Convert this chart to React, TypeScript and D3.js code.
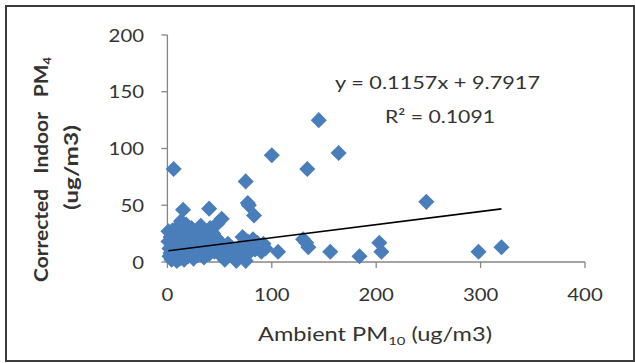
import React from "react";
import * as d3 from "d3";

const ambient: number[] = [
  1,1,2,2,3,3,4,4,5,5,6,6,7,7,8,8,9,9,10,10,11,11,12,12,13,13,14,14,15,15,16,16,17,18,18,19,20,20,21,22,23,23,24,25,26,27,28,29,30,31,32,33,34,35,36,37,38,39,40,40,41,42,43,44,45,46,47,48,49,50,51,52,53,55,56,58,60,62,64,66,68,70,72,73,75,76,77,78,80,82,84,86,88,90,92,94,
  6,100,145,134,164,75,77,78,83,248,106,130,133,135,156,184,203,205,298,320,
];
const indoor: number[] = [
  27,18,12,5,22,8,15,2,28,10,20,4,13,25,7,17,30,1,11,22,6,16,26,3,36,12,19,8,46,28,14,2,23,9,33,17,5,25,13,20,8,30,15,3,22,11,18,6,26,14,32,9,20,4,16,27,11,22,47,7,30,14,19,25,9,15,21,34,12,18,6,38,14,2,10,16,7,12,4,1,9,14,22,6,1,12,18,8,15,20,11,17,13,9,16,12,
  82,94,125,82,96,71,52,50,41,53,9,20,17,13,9,5,17,9,9,13,
];
const xTicks = [0, 100, 200, 300, 400];
const yTicks = [0, 50, 100, 150, 200];
const slope = 0.1157;
const intercept = 9.7917;
const equationLabel = "y = 0.1157x + 9.7917";
const r2Label = "R² = 0.1091";

const FONT = "Lato, 'Open Sans', sans-serif";

export default function App() {
  const x = d3.scaleLinear().domain([0, 400]).range([167.4, 585]);
  const y = d3.scaleLinear().domain([0, 200]).range([262, 35]);
  const diamond = d3.symbol().type(d3.symbolDiamond2).size(165);
  const xMin = d3.min(ambient) as number;
  const xMax = d3.max(ambient) as number;
  const axisColor = "#868686";
  const textColor = "#333";
  return (
    <svg width={635} height={363} style={{ position: "absolute", left: 0, top: 0 }}>
      <rect x={0} y={0} width={635} height={363} fill="#fff" />
      <rect x={6} y={6} width={628} height={355} fill="none" stroke="#3a3a3a" strokeWidth={2} />
      <line x1={x(0)} x2={x(400)} y1={y(0)} y2={y(0)} stroke={axisColor} strokeWidth={1.3} />
      <line x1={x(0)} x2={x(0)} y1={y(0)} y2={y(200)} stroke={axisColor} strokeWidth={1.3} />
      {xTicks.map((t) => (
        <g key={"xt" + t}>
          <line x1={x(t)} x2={x(t)} y1={y(0)} y2={y(0) + 6} stroke={axisColor} strokeWidth={1.3} />
          <text x={x(t)} y={301} textAnchor="middle" fontFamily={FONT} fontSize={18} fill={textColor}
            textLength={String(t).length * 11.8} lengthAdjust="spacingAndGlyphs">
            {t}
          </text>
        </g>
      ))}
      {yTicks.map((t) => (
        <g key={"yt" + t}>
          <line x1={x(0) - 6} x2={x(0)} y1={y(t)} y2={y(t)} stroke={axisColor} strokeWidth={1.3} />
          <text x={144} y={y(t) + 6.5} textAnchor="end" fontFamily={FONT} fontSize={18} fill={textColor}
            textLength={String(t).length * 11.8} lengthAdjust="spacingAndGlyphs">
            {t}
          </text>
        </g>
      ))}
      {ambient.map((a, i) => (
        <path key={i} d={diamond() as string} transform={`translate(${x(a)},${y(indoor[i])})`} fill="#4a7ebb" />
      ))}
      <line
        x1={x(xMin)}
        x2={x(xMax)}
        y1={y(slope * xMin + intercept)}
        y2={y(slope * xMax + intercept)}
        stroke="#000"
        strokeWidth={1.6}
      />
      <text x={437.5} y={89} textAnchor="middle" fontFamily={FONT} fontSize={18} fill={textColor}
        textLength={205} lengthAdjust="spacingAndGlyphs">
        {equationLabel}
      </text>
      <text x={440} y={123} textAnchor="middle" fontFamily={FONT} fontSize={18} fill={textColor}
        textLength={110} lengthAdjust="spacingAndGlyphs">
        {r2Label}
      </text>
      <text x={375} y={341} textAnchor="middle" fontFamily={FONT} fontSize={19} fill={textColor}
        textLength={234} lengthAdjust="spacingAndGlyphs">
        Ambient PM<tspan fontSize={12} dy={4}>10</tspan>
        <tspan dy={-4}>&#160;(ug/m3)</tspan>
      </text>
      <g transform="translate(48,169.5) rotate(-90)">
        <text x={0} y={0} textAnchor="middle" fontFamily={FONT} fontSize={18} fontWeight="bold" fill={textColor}
          textLength={225} lengthAdjust="spacingAndGlyphs">
          Corrected&#160;&#160;&#160;Indoor&#160;&#160;&#160;PM<tspan fontSize={11} dy={3}>4</tspan>
        </text>
      </g>
      <g transform="translate(78,167.5) rotate(-90)">
        <text x={0} y={0} textAnchor="middle" fontFamily={FONT} fontSize={18} fontWeight="bold" fill={textColor}
          textLength={85} lengthAdjust="spacingAndGlyphs">
          (ug/m3)
        </text>
      </g>
    </svg>
  );
}
